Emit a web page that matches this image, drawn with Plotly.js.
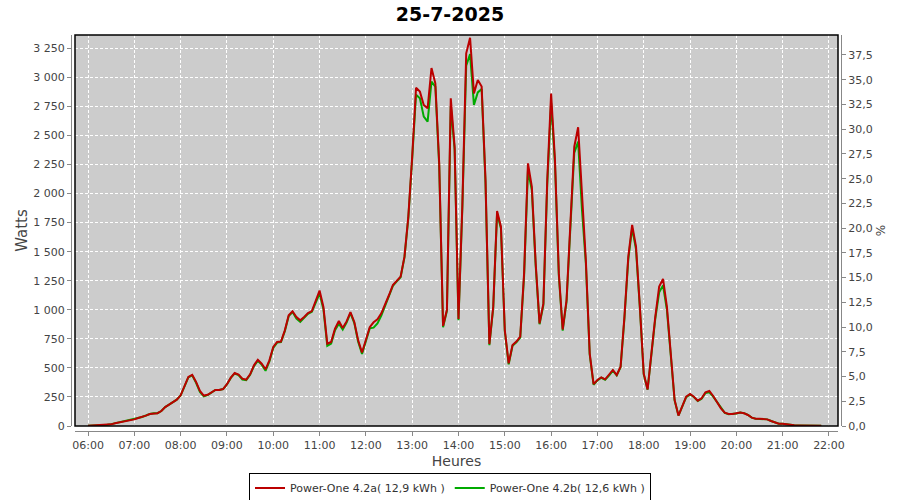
<!DOCTYPE html>
<html>
<head>
<meta charset="utf-8">
<script src="https://cdn.plot.ly/plotly-3.0.1.min.js"></script>
<style>html,body{margin:0;padding:0;background:#fff;}#chart{width:900px;height:500px;}</style>
</head>
<body>
<div id="chart"></div>
<script>
// Sampling grid: one reading every 5 minutes from 06:00 to 21:50 (25-7-2025)
const day = '2025-07-25';
const startTime = '06:00';
const stepMinutes = 5;
const sampleCount = 191;

// Power-One 4.2a (W)
const powerA = [
  2, 3, 4, 5, 6, 8, 14, 23, 29, 34, 43, 49,
  57, 69, 77, 89, 103, 109, 110, 129, 163, 184, 204, 227,
  264, 344, 422, 440, 379, 301, 262, 268, 292, 310, 310, 318,
  360, 416, 456, 442, 407, 399, 445, 522, 570, 536, 488, 565,
  680, 723, 726, 823, 952, 987, 938, 909, 938, 972, 989, 1081,
  1165, 1024, 708, 723, 837, 903, 843, 900, 980, 895, 737, 632,
  737, 850, 892, 918, 969, 1041, 1127, 1213, 1250, 1285, 1457, 1801,
  2317, 2910, 2877, 2762, 2733, 3080, 2948, 2260, 860, 1000, 2820, 2400,
  920, 1900, 3206, 3340, 2862, 2977, 2920, 2117, 705, 1027, 1850, 1715,
  826, 539, 697, 726, 769, 1314, 2260, 2059, 1400, 883, 1055, 2117,
  2860, 2289, 1313, 830, 1084, 1715, 2403, 2570, 1945, 1428, 625, 360,
  396, 419, 402, 439, 482, 439, 510, 941, 1457, 1730, 1543, 1027,
  450, 315, 654, 941, 1200, 1265, 1027, 597, 224, 90, 166, 252,
  275, 252, 218, 238, 290, 301, 258, 209, 152, 115, 103, 103,
  109, 115, 109, 95, 72, 63, 63, 63, 57, 43, 29, 20,
  20, 14, 9, 6, 5, 4, 4, 3, 3, 2, 2
];

// Power-One 4.2b (W)
const powerB = [
  2, 3, 4, 5, 6, 10, 16, 24, 30, 36, 44, 50,
  58, 70, 78, 90, 103, 109, 110, 129, 163, 184, 204, 227,
  262, 340, 418, 436, 372, 292, 255, 265, 290, 310, 310, 318,
  358, 414, 452, 438, 400, 395, 440, 515, 562, 528, 475, 555,
  672, 718, 722, 815, 945, 980, 925, 895, 930, 965, 982, 1070,
  1140, 1005, 690, 710, 825, 880, 830, 890, 972, 885, 725, 620,
  730, 840, 846, 883, 950, 1030, 1120, 1205, 1245, 1280, 1450, 1790,
  2300, 2850, 2819, 2662, 2618, 2963, 2920, 2240, 850, 990, 2750, 2380,
  910, 1880, 3100, 3200, 2762, 2870, 2900, 2090, 695, 1015, 1830, 1700,
  815, 530, 690, 720, 760, 1290, 2200, 2030, 1380, 875, 1040, 2080,
  2780, 2260, 1295, 820, 1070, 1690, 2350, 2446, 1858, 1400, 615, 355,
  392, 415, 398, 433, 476, 435, 505, 925, 1435, 1700, 1520, 1015,
  445, 312, 645, 925, 1150, 1210, 1000, 585, 220, 90, 164, 248,
  272, 250, 216, 235, 284, 290, 252, 205, 150, 113, 102, 102,
  108, 116, 110, 95, 72, 63, 63, 63, 57, 43, 29, 20,
  20, 14, 9, 6, 5, 4, 4, 3, 3, 2, 2
];

const seriesNames = ['Power-One 4.2a( 12,9 kWh )', 'Power-One 4.2b( 12,6 kWh )'];
const chartTitle = '25-7-2025';
const xTitle = 'Heures';
const yTitle = 'Watts';
const y2Title = '%';

function buildTimes() {
  const out = [];
  const [h0, m0] = startTime.split(':').map(Number);
  for (let i = 0; i < sampleCount; i++) {
    const tot = h0 * 60 + m0 + i * stepMinutes;
    const hh = String(Math.floor(tot / 60)).padStart(2, '0');
    const mm = String(tot % 60).padStart(2, '0');
    out.push(day + ' ' + hh + ':' + mm);
  }
  return out;
}
const times = buildTimes();

const FONT = 'DejaVu Sans, Verdana, sans-serif';
const AXIS_GREY = '#888888';

const traces = [
  {x: times, y: powerB, type: 'scatter', mode: 'lines', name: seriesNames[1],
   line: {color: '#00AA00', width: 2}, legendrank: 2, hoverinfo: 'skip'},
  {x: times, y: powerA, type: 'scatter', mode: 'lines', name: seriesNames[0],
   line: {color: '#BB0000', width: 2}, legendrank: 1, hoverinfo: 'skip'},
  {x: [], y: [], type: 'scatter', mode: 'lines', yaxis: 'y2', showlegend: false, hoverinfo: 'skip'}
];

const layout = {
  width: 900, height: 500,
  margin: {l: 71, r: 59, t: 35, b: 69, pad: 0},
  paper_bgcolor: '#FFFFFF',
  plot_bgcolor: '#CCCCCC',
  separators: ', ',
  font: {family: FONT, size: 11, color: '#444444'},
  title: {text: '<b>' + chartTitle + '</b>', x: 0.5, xref: 'container', xanchor: 'center',
          y: 0.972, yref: 'container', yanchor: 'middle',
          font: {family: FONT, size: 19, color: '#000000'}},
  showlegend: true,
  legend: {orientation: 'h', x: 0.5, xref: 'container', xanchor: 'center',
           y: 0.024, yref: 'container', yanchor: 'middle',
           bgcolor: '#FFFFFF', bordercolor: '#000000', borderwidth: 1,
           font: {family: FONT, size: 11, color: '#333333'},
           itemwidth: 30, tracegroupgap: 0},
  xaxis: {
    type: 'date',
    domain: [4 / 770, 767 / 770],
    anchor: 'free', position: 0,
    range: [day + ' 05:43:08', day + ' 22:11:42'],
    tick0: day + ' 06:00', dtick: 3600000, tickformat: '%H:%M',
    showline: true, linecolor: AXIS_GREY, linewidth: 1,
    ticks: 'outside', ticklen: 4, tickcolor: AXIS_GREY, tickwidth: 1,
    showgrid: true, gridcolor: '#FFFFFF', gridwidth: 1, griddash: '3px,2px',
    zeroline: false,
    tickfont: {family: FONT, size: 11, color: '#444444'},
    title: {text: xTitle, font: {family: FONT, size: 14, color: '#444444'}, standoff: 4}
  },
  yaxis: {
    domain: [5 / 396, 1],
    anchor: 'free', position: 0,
    range: [0, 3364],
    tick0: 0, dtick: 250, separatethousands: true,
    showline: true, linecolor: AXIS_GREY, linewidth: 1,
    ticks: 'outside', ticklen: 4, tickcolor: AXIS_GREY, tickwidth: 1,
    showgrid: true, gridcolor: '#FFFFFF', gridwidth: 1, griddash: '3px,2px',
    zeroline: false,
    tickfont: {family: FONT, size: 11, color: '#444444'},
    title: {text: yTitle, font: {family: FONT, size: 15, color: '#444444'}, standoff: 1}
  },
  yaxis2: {
    overlaying: 'y', side: 'right',
    anchor: 'free', position: 1,
    range: [0, 39.52],
    tick0: 0, dtick: 2.5, tickformat: '.1f',
    showline: true, linecolor: AXIS_GREY, linewidth: 1,
    ticks: 'outside', ticklen: 4, tickcolor: AXIS_GREY, tickwidth: 1,
    showgrid: false, zeroline: false,
    tickfont: {family: FONT, size: 11, color: '#444444'},
    title: {text: y2Title, font: {family: FONT, size: 12, color: '#444444'}, standoff: 4}
  },
  shapes: [
    {type: 'rect', xref: 'x domain', yref: 'y domain', x0: 0, x1: 1, y0: 0, y1: 1,
     line: {color: '#000000', width: 1.5}, fillcolor: 'rgba(0,0,0,0)', layer: 'above'}
  ]
};

Plotly.newPlot('chart', traces, layout, {displayModeBar: false, staticPlot: true});
</script>
</body>
</html>
